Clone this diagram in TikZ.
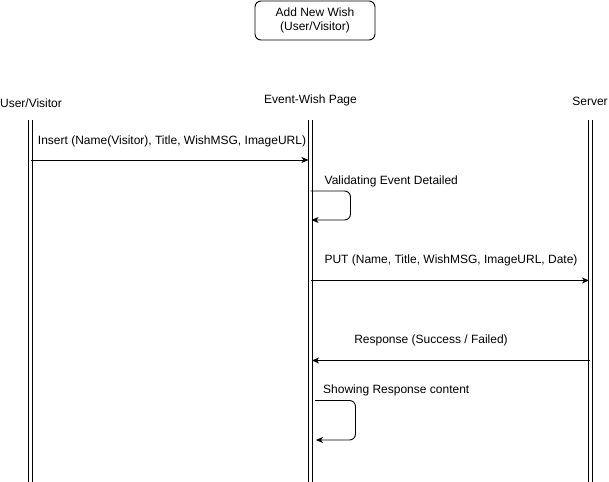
\documentclass[tikz,border=0pt]{standalone}
\usepackage{fontspec}
\setmainfont{Liberation Sans}
\usetikzlibrary{arrows.meta}
\begin{document}
\begin{tikzpicture}[x=1pt,y=-1pt,
  every node/.style={font=\fontsize{12}{14}\selectfont, inner sep=0pt},
  lifeline/.style={line width=0.9pt, double distance=3pt},
  msg/.style={line width=0.9pt, -{Stealth[length=7pt,width=6pt,inset=2pt]}},
  loopmsg/.style={msg, rounded corners=6pt},
  lbl/.style={anchor=center},
  titlebox/.style={draw, line width=0.9pt, rounded corners=6pt, minimum width=120pt, minimum height=39pt, align=center}]
\useasboundingbox (0,0) rectangle (609,481);
% title box
\node[titlebox] (title) at (315,20.5) {Add New Wish\\(User/Visitor)};
% lifeline heads
\node (user) at (31,103) {User/Visitor};
\node (page) at (310.5,100) {Event-Wish Page};
\node (server) at (590,101) {Server};
% lifeline ends
\coordinate (userTop) at (30.5,120);
\coordinate (userBot) at (30.5,482);
\coordinate (pageTop) at (310.3,120);
\coordinate (pageBot) at (310.3,482);
\coordinate (serverTop) at (590.5,120);
\coordinate (serverBot) at (590.5,482);
\draw[lifeline] (userTop) -- (userBot);
\draw[lifeline] (pageTop) -- (pageBot);
\draw[lifeline] (serverTop) -- (serverBot);
% message 1
\coordinate (m1s) at (31,160);
\coordinate (m1e) at (308.5,160);
\draw[msg] (m1s) -- (m1e);
\node[lbl] (m1l) at (172,141) {Insert (Name(Visitor), Title, WishMSG, ImageURL)};
% self loop 1
\coordinate (l1s) at (310.5,191);
\coordinate (l1e) at (311.5,220);
\draw[loopmsg] (l1s) -- (350.5,191) -- (350.5,220) -- (l1e);
\node[anchor=west] (l1l) at (324.5,181) {Validating Event Detailed};
% PUT
\coordinate (m2s) at (310.5,280.5);
\coordinate (m2e) at (589,280.5);
\draw[msg] (m2s) -- (m2e);
\node[lbl] (m2l) at (451,260.5) {PUT (Name, Title, WishMSG, ImageURL, Date)};
% Response
\coordinate (m3s) at (590,360.5);
\coordinate (m3e) at (312,360.5);
\draw[msg] (m3s) -- (m3e);
\node[lbl] (m3l) at (431,340.5) {Response (Success / Failed)};
% self loop 2
\coordinate (l2s) at (315,400.5);
\coordinate (l2e) at (316,440);
\draw[loopmsg] (l2s) -- (355.5,400.5) -- (355.5,440) -- (l2e);
\node[anchor=west] (l2l) at (323,390.5) {Showing Response content};
\end{tikzpicture}
\end{document}
